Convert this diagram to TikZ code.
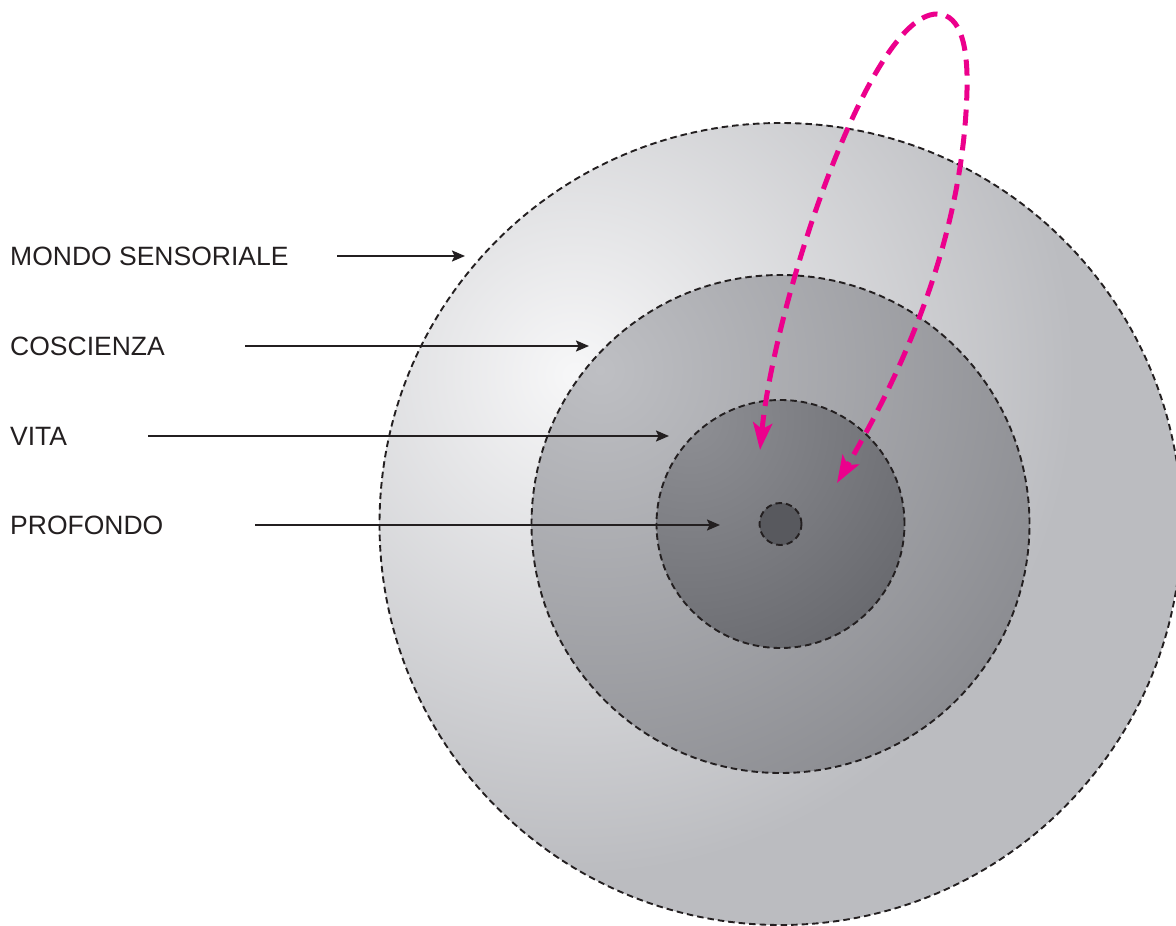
\documentclass[tikz,border=0pt]{standalone}
\usepackage{fontspec}
\setmainfont{Liberation Sans}
\usetikzlibrary{arrows.meta}

\definecolor{inkblack}{RGB}{35,31,32}
\definecolor{loopmagenta}{RGB}{236,0,140}
\definecolor{outerlight}{RGB}{247,247,248}
\definecolor{outerdark}{RGB}{187,188,192}
\definecolor{midlight}{RGB}{190,191,195}
\definecolor{middark}{RGB}{132,133,138}
\definecolor{innerlight}{RGB}{142,143,148}
\definecolor{innerdark}{RGB}{100,101,106}
\definecolor{corefill}{RGB}{88,89,94}

\begin{document}
\begin{tikzpicture}[
    x=1pt, y=-1pt,
    border/.style={draw=inkblack, line width=1.9pt, dash pattern=on 6.5pt off 4pt},
    pointer/.style={-{Stealth[length=13pt, width=11pt, inset=2.5pt]}, line width=2pt, inkblack},
    loopline/.style={{Stealth[length=27pt, width=19pt, inset=6pt]}-{Stealth[length=27pt, width=19pt, inset=6pt]}, line width=5pt, dash pattern=on 16pt off 9pt, loopmagenta},
    layername/.style={anchor=base west, inner sep=0pt, text=inkblack, font=\fontsize{26.5}{30}\selectfont}
]
\useasboundingbox (0,0) rectangle (1176,926);
\coordinate (centre) at (780.5,524);
% shaded layers, outside in
\begin{scope}
  \clip (centre) circle[radius=401pt];
  \fill[outerdark] (centre) circle[radius=401pt];
  \shade[inner color=outerlight, outer color=outerdark] (575,375) circle[radius=500pt];
\end{scope}
\begin{scope}
  \clip (centre) circle[radius=249pt];
  \shade[inner color=midlight, outer color=middark] (600,370) circle[radius=560pt];
\end{scope}
\begin{scope}
  \clip (centre) circle[radius=124pt];
  \shade[inner color=innerlight, outer color=innerdark] (690,420) circle[radius=300pt];
\end{scope}
\fill[corefill] (centre) circle[radius=21pt];
\foreach \r in {401,249,124,21}{\draw[border] (centre) circle[radius=\r pt];}
% labels and pointers
\foreach \name/\txt/\y/\xs/\xe in {mondo/MONDO SENSORIALE/256/337/465, coscienza/COSCIENZA/346/245/589, vita/VITA/436/148/669, profondo/PROFONDO/525/255/720}{
  \node[layername] (\name) at (10,\y+9.5) {\txt};
  \coordinate (\name-tail) at (\xs,\y);
  \coordinate (\name-tip) at (\xe,\y);
  \draw[pointer] (\name-tail) -- (\name-tip);
}
% return loop
\coordinate (loopa) at (760,450);
\coordinate (looptop) at (937,14);
\coordinate (loopb) at (837,483);
\draw[loopline] (loopa) .. controls (775,300) and (870,14) .. (looptop)
  .. controls (962,14) and (968,50) .. (967,90)
  .. controls (965,170) and (945,300) .. (loopb);
\end{tikzpicture}
\end{document}
